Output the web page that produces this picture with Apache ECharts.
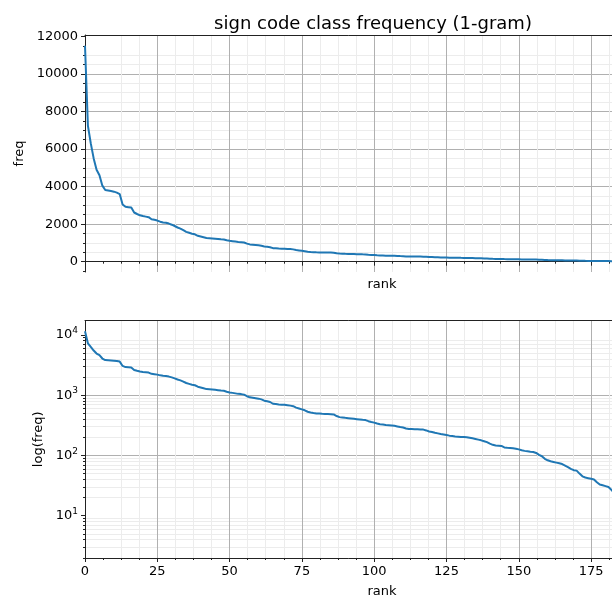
<!DOCTYPE html>
<html>
<head>
<meta charset="UTF-8">
<title>sign code class frequency</title>
<script src="https://cdn.jsdelivr.net/npm/echarts@6/dist/echarts.min.js"></script>
<style>
  html, body { margin: 0; padding: 0; background: #fff; }
  #chart { width: 612px; height: 601px; }
</style>
</head>
<body>
<div id="chart"></div>
<script>
// frequency of each class, sorted by rank (0 = most frequent)
var freqs = [
  11500, 7250, 6300, 5500, 4900, 4600, 4050, 3820, 3790, 3760,
  3730, 3680, 3600, 3050, 2920, 2900, 2880, 2620, 2540, 2470,
  2430, 2400, 2370, 2260, 2230, 2190, 2130, 2090, 2070, 2030,
  1970, 1900, 1820, 1760, 1680, 1590, 1540, 1490, 1460, 1380,
  1340, 1300, 1260, 1250, 1240, 1225, 1210, 1190, 1180, 1140,
  1110, 1090, 1070, 1050, 1040, 1020, 960, 920, 905, 890,
  875, 850, 810, 790, 770, 720, 710, 700, 695, 690,
  680, 670, 655, 620, 600, 580, 560, 530, 515, 505,
  498, 494, 490, 487, 485, 483, 478, 450, 432, 426,
  420, 415, 410, 405, 400, 395, 390, 386, 370, 358,
  350, 338, 330, 325, 320, 318, 314, 310, 303, 296,
  290, 280, 275, 274, 273, 272, 270, 268, 260, 250,
  245, 238, 232, 226, 222, 218, 213, 210, 207, 205,
  203, 202, 200, 196, 192, 188, 183, 178, 172, 166,
  157, 150, 146, 145, 144, 136, 134, 133, 131, 129,
  126, 122, 119, 117, 115, 114, 110, 102, 97, 88,
  83, 80, 78, 76, 74, 72, 68, 64, 60, 57,
  56, 50, 45, 43, 42, 41, 40, 36, 33, 32,
  31, 30, 27, 24
];

// tick positions
var xMajor = [0, 25, 50, 75, 100, 125, 150, 175, 200];
var xMinor = [6.25, 12.5, 18.75, 31.25, 37.5, 43.75, 56.25, 62.5, 68.75, 81.25, 87.5, 93.75,
  106.25, 112.5, 118.75, 131.25, 137.5, 143.75, 156.25, 162.5, 168.75, 181.25, 187.5, 193.75];
var yMajor = [0, 2000, 4000, 6000, 8000, 10000, 12000];
var yMinor = [-500, 500, 1000, 1500, 2500, 3000, 3500, 4500, 5000, 5500, 6500, 7000, 7500,
  8500, 9000, 9500, 10500, 11000, 11500];
var logMajor = [10, 100, 1000, 10000];
var logMinor = [2, 3, 4, 5, 6, 7, 8, 9, 20, 30, 40, 50, 60, 70, 80, 90,
  200, 300, 400, 500, 600, 700, 800, 900, 2000, 3000, 4000, 5000, 6000, 7000, 8000, 9000];

var points = freqs.map(function (v, i) { return [i, v]; });

var FONT = 'DejaVu Sans';
var TICK_FS = 13;
var MAJOR_GRID = '#b0b0b0';
var MINOR_GRID = '#ececec';
var SPINE = '#222';
// the axes run past the right edge of the picture
var XMAX = 205.4;
var GRID_W = 594;

function majorX(gridIndex, showLabel) {
  return {
    type: 'value', gridIndex: gridIndex, position: 'bottom', min: 0, max: XMAX,
    name: 'rank', nameLocation: 'middle', nameGap: showLabel ? 27 : 6,
    nameTextStyle: { fontFamily: FONT, fontSize: TICK_FS, color: '#000' },
    axisLine: { show: true, lineStyle: { color: SPINE, width: 1 } },
    axisTick: { show: true, length: 4, customValues: xMajor, lineStyle: { color: SPINE, width: 1 } },
    axisLabel: { show: showLabel, customValues: xMajor, margin: 7, fontFamily: FONT, fontSize: TICK_FS, color: '#000' },
    splitLine: { show: true, showMinLine: false, showMaxLine: false, lineStyle: { color: MAJOR_GRID, width: 1 } }
  };
}
function minorX(gridIndex) {
  return {
    type: 'value', gridIndex: gridIndex, position: 'bottom', min: 0, max: XMAX,
    axisLine: { show: false },
    axisTick: { show: true, length: 2, customValues: xMinor, lineStyle: { color: SPINE, width: 1 } },
    axisLabel: { show: false, customValues: xMinor },
    splitLine: { show: true, showMinLine: false, showMaxLine: false, lineStyle: { color: MINOR_GRID, width: 1 } }
  };
}
function topSpine(gridIndex) {
  return {
    type: 'value', gridIndex: gridIndex, position: 'top', min: 0, max: XMAX,
    axisLine: { show: true, lineStyle: { color: SPINE, width: 1 } },
    axisTick: { show: false }, axisLabel: { show: false }, splitLine: { show: false }
  };
}

var chart = echarts.init(document.getElementById('chart'));
var option = {
  animation: false,
  backgroundColor: '#fff',
  title: {
    text: 'sign code class frequency (1-gram)',
    left: 368, top: 10, textAlign: 'center',
    textStyle: { fontFamily: FONT, fontSize: 18, fontWeight: 'normal', color: '#000' }
  },
  grid: [
    { left: 85, top: 35, width: GRID_W, height: 237, outerBoundsMode: 'none' },
    { left: 85, top: 320.5, width: GRID_W, height: 237.5, outerBoundsMode: 'none' }
  ],
  xAxis: [minorX(0), majorX(0, false), minorX(1), majorX(1, true), topSpine(0), topSpine(1)],
  yAxis: [
    {
      type: 'value', gridIndex: 0, position: 'left', min: -550, max: 12075,
      axisLine: { show: false },
      axisTick: { show: true, length: 2, customValues: yMinor, lineStyle: { color: SPINE } },
      axisLabel: { show: false, customValues: yMinor },
      splitLine: { show: true, showMinLine: false, showMaxLine: false, lineStyle: { color: MINOR_GRID, width: 1 } }
    },
    {
      type: 'value', gridIndex: 0, position: 'left', min: -550, max: 12075,
      name: 'freq', nameLocation: 'middle', nameGap: 56,
      nameTextStyle: { fontFamily: FONT, fontSize: TICK_FS, color: '#000' },
      axisLine: { show: true, lineStyle: { color: SPINE, width: 1 } },
      axisTick: { show: true, length: 4, customValues: yMajor, lineStyle: { color: SPINE } },
      axisLabel: {
        customValues: yMajor, margin: 7, fontFamily: FONT, fontSize: TICK_FS, color: '#000',
        formatter: function (v) { return String(v); }
      },
      splitLine: { show: true, showMinLine: false, showMaxLine: false, lineStyle: { color: MAJOR_GRID, width: 1 } }
    },
    {
      type: 'log', logBase: 10, gridIndex: 1, position: 'left', min: 1.99, max: 17300,
      axisLine: { show: false },
      axisTick: { show: true, length: 2, customValues: logMinor, lineStyle: { color: SPINE } },
      axisLabel: { show: false, customValues: logMinor },
      splitLine: { show: true, showMinLine: false, showMaxLine: false, lineStyle: { color: MINOR_GRID, width: 1 } }
    },
    {
      type: 'log', logBase: 10, gridIndex: 1, position: 'left', min: 1.99, max: 17300,
      name: 'log(freq)', nameLocation: 'middle', nameGap: 37,
      nameTextStyle: { fontFamily: FONT, fontSize: TICK_FS, color: '#000' },
      axisLine: { show: true, lineStyle: { color: SPINE, width: 1 } },
      axisTick: { show: true, length: 4, customValues: logMajor, lineStyle: { color: SPINE } },
      axisLabel: {
        customValues: logMajor, margin: 7,
        formatter: function (v) {
          return '{b|10}{s|' + Math.round(Math.log10(v)) + '}';
        },
        rich: {
          b: { fontFamily: FONT, fontSize: TICK_FS, color: '#000' },
          s: { fontFamily: FONT, fontSize: 9, color: '#000', padding: [0, 0, 8, 0] }
        }
      },
      splitLine: { show: true, showMinLine: false, showMaxLine: false, lineStyle: { color: MAJOR_GRID, width: 1 } }
    }
  ],
  series: [
    {
      type: 'line', xAxisIndex: 1, yAxisIndex: 1, data: points,
      showSymbol: false, symbol: 'none', clip: true, z: 5,
      lineStyle: { color: '#1f77b4', width: 2 }
    },
    {
      type: 'line', xAxisIndex: 3, yAxisIndex: 3, data: points,
      showSymbol: false, symbol: 'none', clip: true, z: 5,
      lineStyle: { color: '#1f77b4', width: 2 }
    }
  ]
};
chart.setOption(option);
</script>
</body>
</html>
